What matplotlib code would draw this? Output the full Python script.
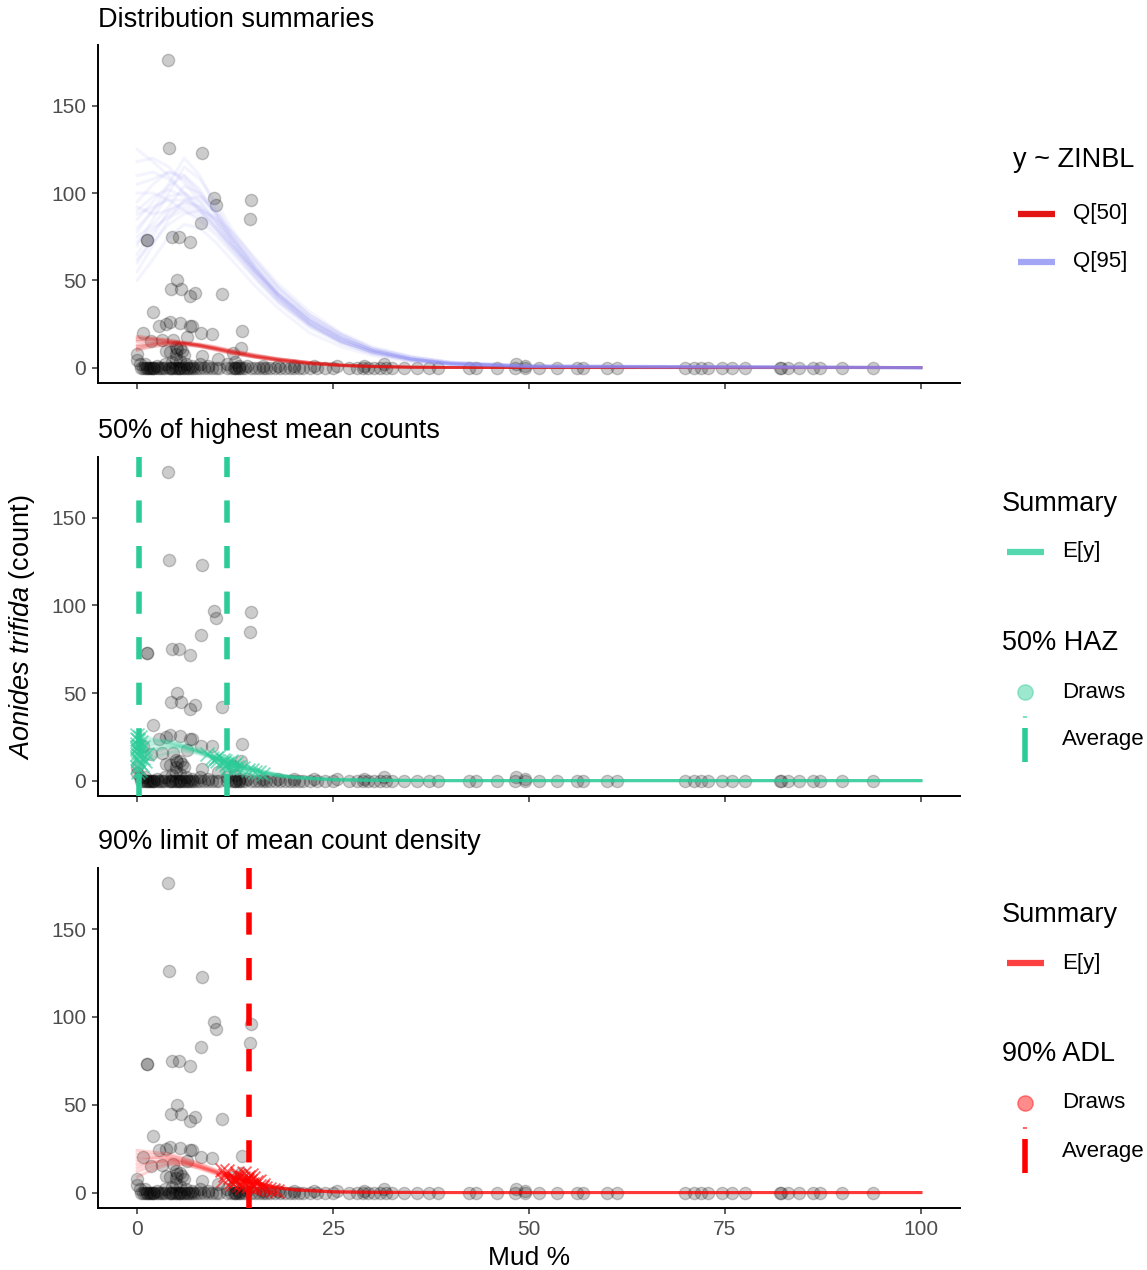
import numpy as np
import matplotlib
matplotlib.use("Agg")
import matplotlib.pyplot as plt
from matplotlib.lines import Line2D

plt.rcParams['font.family'] = ['Liberation Sans', 'DejaVu Sans']
plt.rcParams['mathtext.fontset'] = 'custom'
plt.rcParams['mathtext.it'] = 'Liberation Sans:italic'
plt.rcParams['mathtext.rm'] = 'Liberation Sans'

# observed samples with clear counts: mud % and count
high_mud = [
    3.95, 4.1, 8.3, 9.8, 10.0, 14.5, 14.4, 8.2, 1.3, 1.3, 4.5, 5.4, 6.8,
    5.1, 4.3, 5.6, 6.8, 7.4, 10.8, 2.0, 0.8, 2.8, 3.7, 4.2, 5.5, 6.7, 7.0,
    8.1, 9.6, 13.4, 1.7, 3.2, 4.6, 6.3, 13.3, 12.2, 0.0, 0.0, 3.7, 5.1, 5.7,
    8.3, 10.3, 4.9, 5.5, 5.0, 6.0, 4.2,
]
high_count = [
    176, 126, 123, 97, 93, 96, 85, 83, 73, 73, 75, 75, 72,
    50, 45, 45, 41, 43, 42, 32, 20, 24, 25, 26, 25.5, 24, 24,
    20, 19.5, 21, 15, 15.6, 16, 17.7, 11.4, 8.6, 7.6, 4.2, 9.5, 10.5, 9.5,
    6.7, 5, 12, 11, 8, 7.5, 9,
]
# samples with small counts
low_mud = [0.3, 1.0, 2.5, 3.5, 4.5, 5.0, 5.5, 6.2, 7.0, 8.0, 9.0, 11.5, 12.5,
           13.0, 14.0, 16.0, 18.0, 20.0, 22.5, 25.5, 29.0, 31.5, 48.3, 49.5]
low_count = [2, 2, 1, 2, 3, 5, 4, 2, 1, 2, 1, 2, 3,
             1, 1, 1, 1, 1, 1, 1, 1, 2, 2, 1]
# samples with zero count
zero_mud = [
    0.5, 0.8, 1.0, 1.2, 1.5, 1.8, 2.0, 2.2, 2.5, 3.0, 3.3, 3.6, 4.0, 4.2,
    4.5, 4.8, 5.0, 5.3, 5.6, 6.0, 6.3, 6.8, 7.2, 7.6, 8.0, 8.5, 9.0, 9.5,
    10.0, 10.5, 11.5, 12.0, 12.3, 12.6, 13.0, 13.4, 13.8, 14.5, 15.0, 15.5,
    16.0, 16.5, 17.0, 17.6, 18.2, 18.8, 19.5, 20.0, 20.6, 21.2, 22.0, 23.0,
    24.0, 25.0, 27.0, 28.0, 28.8, 29.5, 30.2, 31.0, 31.8, 32.5, 34.0, 35.7,
    37.2, 38.4, 42.3, 43.2, 45.9, 48.2, 49.5, 51.3, 53.6, 56.1, 56.9, 59.9,
    61.2, 69.9, 71.0, 72.0, 72.9, 74.6, 75.9, 77.6, 82.0, 82.2, 83.1, 84.4,
    86.3, 87.1, 89.9, 93.9,
    1.2, 1.6, 2.0, 5.2, 5.5, 6.0, 6.5, 7.0, 12.5, 13.0, 2.8, 4.4,
]
obs_mud = high_mud + low_mud + zero_mud
obs_count = high_count + low_count + [0] * len(zero_mud)

# panel 1: posterior draws of the quantiles
q_mud = [0, 2, 4, 6, 8, 10, 12, 15, 18, 22, 26, 30, 35, 40, 50, 100]
q95_draws = [
    [125, 118, 110, 100, 90, 80, 70, 55, 42, 28, 17, 10, 5, 2.5, 0.8, 0],
    [95, 105, 112, 108, 98, 88, 75, 58, 43, 28, 17, 10, 5, 2.5, 0.8, 0],
    [60, 75, 90, 95, 92, 85, 75, 60, 45, 30, 19, 11, 6, 3, 1, 0],
    [50, 62, 75, 82, 80, 72, 62, 47, 34, 20, 12, 7, 3, 1.5, 0.5, 0],
    [110, 112, 108, 100, 92, 82, 70, 53, 38, 24, 14, 8, 4, 2, 0.6, 0],
    [80, 90, 98, 100, 95, 85, 72, 55, 40, 25, 15, 9, 4.5, 2, 0.7, 0],
    [70, 85, 100, 115, 108, 95, 80, 62, 46, 30, 19, 11, 6, 3, 1, 0],
    [100, 100, 96, 90, 84, 76, 66, 51, 37, 23, 14, 8, 4, 2, 0.6, 0],
    [85, 95, 105, 120, 110, 92, 77, 58, 41, 26, 16, 9, 5, 2.2, 0.7, 0],
    [65, 78, 88, 92, 88, 80, 70, 56, 42, 27, 17, 10, 5, 2.5, 0.8, 0],
    [90, 98, 102, 98, 90, 80, 68, 52, 38, 24, 15, 9, 4.5, 2, 0.6, 0],
    [75, 82, 92, 104, 100, 90, 76, 58, 43, 28, 18, 10, 5, 2.5, 0.8, 0],
    [55, 70, 85, 96, 98, 90, 78, 61, 46, 30, 19, 11, 6, 3, 1, 0],
    [118, 120, 115, 106, 95, 84, 72, 55, 40, 25, 15, 9, 4.5, 2, 0.7, 0],
    [88, 92, 96, 96, 92, 84, 73, 57, 42, 27, 17, 10, 5, 2.4, 0.8, 0],
    [72, 80, 86, 90, 86, 78, 68, 53, 39, 25, 15, 9, 4.5, 2, 0.7, 0],
    [105, 108, 112, 110, 100, 88, 74, 56, 40, 25, 15, 8.5, 4, 2, 0.6, 0],
    [62, 72, 82, 88, 90, 86, 78, 63, 48, 32, 20, 12, 6.5, 3.2, 1, 0],
    [92, 88, 90, 94, 90, 82, 71, 55, 41, 26, 16, 9.5, 4.8, 2.3, 0.7, 0],
    [78, 90, 104, 110, 102, 88, 74, 57, 42, 27, 17, 10, 5, 2.4, 0.8, 0],
]
q50_draws = [
    [18, 17, 16, 14.5, 13, 11, 9, 6.5, 4.5, 2.5, 1.3, 0.7, 0.3, 0.1, 0, 0],
    [12, 13.5, 14, 13.5, 12.5, 11, 9.5, 7, 5, 3, 1.6, 0.8, 0.3, 0.1, 0, 0],
    [15, 15, 14.5, 13.5, 12, 10.5, 8.5, 6, 4, 2.2, 1.1, 0.5, 0.2, 0.1, 0, 0],
    [10, 12, 13, 13, 12, 10, 8, 6, 4.2, 2.4, 1.2, 0.6, 0.2, 0.1, 0, 0],
    [16, 16, 15, 14, 12.5, 10.5, 8.5, 6, 4, 2.2, 1.1, 0.5, 0.2, 0.1, 0, 0],
    [13, 14, 14.5, 14, 13, 11.5, 9.5, 7, 5, 3, 1.5, 0.7, 0.3, 0.1, 0, 0],
    [17, 16.5, 15.5, 14.5, 13.5, 12, 10, 7.5, 5.2, 3, 1.6, 0.8, 0.3, 0.1, 0, 0],
    [11, 13, 14, 14, 13, 11, 9, 6.5, 4.5, 2.6, 1.3, 0.6, 0.2, 0.1, 0, 0],
]

# panels 2 and 3: posterior draws of E[y]
e_mud = [0, 2, 4, 6, 8, 10, 12, 14, 16, 18, 20, 25, 30, 40, 100]
haz_ey_draws = [
    [24, 23, 22, 20, 17, 14, 11, 8, 5.5, 3.6, 2.2, 0.7, 0.2, 0, 0],
    [18, 20, 21, 19.5, 16.5, 13, 10, 7.2, 5, 3.2, 2, 0.6, 0.2, 0, 0],
    [12, 16, 19, 19, 16.5, 13, 9.8, 7, 4.6, 3, 1.8, 0.5, 0.2, 0, 0],
    [20, 21, 21, 19, 16, 12.5, 9.5, 6.8, 4.5, 2.8, 1.7, 0.5, 0.1, 0, 0],
    [15, 18, 20, 19, 16, 12.5, 9.2, 6.4, 4.2, 2.6, 1.5, 0.4, 0.1, 0, 0],
    [10, 13, 16, 17, 15, 12, 9, 6.2, 4, 2.5, 1.4, 0.4, 0.1, 0, 0],
    [22, 22, 23, 21, 18, 14.5, 11, 8, 5.4, 3.4, 2, 0.6, 0.2, 0, 0],
    [16, 18, 19, 18, 15.5, 12.5, 9.5, 6.8, 4.6, 2.9, 1.7, 0.5, 0.1, 0, 0],
    [26, 24, 22, 19.5, 16.5, 13, 10, 7.2, 4.9, 3.1, 1.9, 0.5, 0.2, 0, 0],
]
adl_ey_draws = [
    [22, 21.5, 21, 19, 16, 12.5, 9.5, 7, 4.8, 3, 1.8, 0.5, 0.1, 0, 0],
    [14, 17, 18.5, 17.5, 15, 12, 9.2, 6.6, 4.4, 2.8, 1.6, 0.4, 0.1, 0, 0],
    [9, 13, 16, 16, 14, 11, 8.5, 6.2, 4.2, 2.6, 1.5, 0.4, 0.1, 0, 0],
    [18, 19.5, 20, 18, 15, 12, 9, 6.5, 4.4, 2.8, 1.6, 0.4, 0.1, 0, 0],
    [12, 15, 17, 16, 13.5, 10.5, 8, 5.8, 3.9, 2.4, 1.4, 0.3, 0.1, 0, 0],
    [20, 20, 19.5, 17.5, 14.5, 11.5, 8.8, 6.3, 4.2, 2.6, 1.5, 0.4, 0.1, 0, 0],
    [24, 23, 22, 19.5, 16.5, 13, 10, 7.2, 4.9, 3.1, 1.8, 0.5, 0.1, 0, 0],
    [16, 17.5, 18, 17, 14.5, 11.5, 8.6, 6.1, 4.1, 2.5, 1.4, 0.4, 0.1, 0, 0],
]

# HAZ boundary draws (lower and upper) and their averages
haz_x = [0.0, 0.0, 0.1, 0.2, 0.0, 0.3, 0.5, 0.1, 0.0, 0.8, 0.2, 0.0, 1.0, 0.4,
         0.0, 0.6, 0.1, 1.2, 0.0, 0.3, 0.0, 0.4, 0.7, 0.1,
         9.5, 10.2, 10.8, 11.0, 11.3, 11.5, 11.7, 12.0, 12.3, 12.8, 13.5,
         14.2, 15.0, 16.0, 10.5, 11.8, 12.5, 9.8, 13.0, 11.2, 8.9, 10.0,
         12.6, 14.7, 15.6, 11.4]
haz_y = [24, 18, 12, 20, 15, 10, 22, 17, 8, 19, 14, 21, 11, 16, 13, 9, 23, 15,
         19, 6, 26, 25, 13, 5,
         13, 11, 10, 12, 9, 10, 8, 11, 9, 8, 7, 6, 5, 4, 14, 10, 7, 12, 8, 11,
         15, 13, 10, 6, 5, 7]
haz_avg = [0.2, 11.5]

# ADL draws and average
adl_x = [11.2, 11.8, 12.3, 12.6, 12.9, 13.2, 13.5, 13.8, 14.0, 14.2, 14.4,
         14.6, 14.9, 15.2, 15.5, 15.9, 16.3, 16.8, 17.3, 12.0, 13.0, 14.1,
         15.0, 13.6, 10.8, 11.5, 12.8, 13.4, 14.8, 15.6, 16.0, 17.8, 12.2,
         14.5, 13.9, 11.0]
adl_y = [10, 9, 8.5, 7, 9.5, 6, 8, 5.5, 7, 4, 6.5, 5, 3.5, 6, 4, 3, 2.5, 2,
         1.5, 6, 4.5, 9, 2, 11, 13, 12, 11, 3, 8, 6.5, 4.5, 1, 5, 10, 7.5, 7]
adl_avg = [14.3]

titles = ["Distribution summaries", "50% of highest mean counts",
          "90% limit of mean count density"]

GREEN = '#2BCC98'
RED = '#FF0000'
Q50_COL = '#E31414'
Q95_COL = '#A3A6F5'

W, H = 1147, 1270
fig = plt.figure(figsize=(W / 100, H / 100), dpi=100)


def fx(px):
    return px / W


def fy(py):
    return 1 - py / H


def box(top, bottom):
    return [fx(98), fy(bottom), 862 / W, (bottom - top) / H]


tops = [45, 457, 868]
bottoms = [383, 796, 1208]
axes = [fig.add_axes(box(t, b)) for t, b in zip(tops, bottoms)]

for i, ax in enumerate(axes):
    ax.scatter(obs_mud, obs_count, s=78, c='black', alpha=0.2,
               linewidths=1.0, zorder=2)
    ax.set_xlim(-5, 105)
    ax.set_ylim(-8.8, 184.8)
    ax.set_xticks([0, 25, 50, 75, 100])
    ax.set_yticks([0, 50, 100, 150])
    for s in ['top', 'right']:
        ax.spines[s].set_visible(False)
    for s in ['left', 'bottom']:
        ax.spines[s].set_linewidth(1.4)
    ax.tick_params(length=4.5, width=1.1, colors='#333333',
                   labelcolor='#4D4D4D', labelsize=15, pad=4)
    if i < 2:
        ax.set_xticklabels([])
    fig.text(fx(98), fy([20, 431, 842][i]), titles[i], fontsize=19.5,
             va='center', ha='left')

# panel 1
ax = axes[0]
for d in q50_draws:
    ax.plot(q_mud, d, color=Q50_COL, alpha=0.24, lw=2.0, zorder=3)
for d in q95_draws:
    ax.plot(q_mud, d, color='#8C8CF5', alpha=0.095, lw=2.2, zorder=4)

# panel 2
ax = axes[1]
for d in haz_ey_draws:
    ax.plot(e_mud, d, color=GREEN, alpha=0.2, lw=2.2, zorder=3)
ax.scatter(haz_x, haz_y, marker='x', s=100, c=GREEN, alpha=0.6,
           linewidths=1.3, zorder=4)
for v in haz_avg:
    ax.axvline(v, color=GREEN, lw=4, linestyle=(0, (4, 4.2)), zorder=5)

# panel 3
ax = axes[2]
for d in adl_ey_draws:
    ax.plot(e_mud, d, color=RED, alpha=0.17, lw=2.2, zorder=3)
ax.scatter(adl_x, adl_y, marker='x', s=100, c=RED, alpha=0.6,
           linewidths=1.3, zorder=4)
for v in adl_avg:
    ax.axvline(v, color=RED, lw=4, linestyle=(0, (4, 4.2)), zorder=5)
ax.set_xlabel('Mud %', fontsize=19, labelpad=5)

fig.text(fx(22), fy(627), r'$\it{Aonides\ trifida}$ (count)', rotation=90,
         fontsize=19.5, ha='center', va='center')


# legends
def key_line(x0, x1, y, color, lw=4.5):
    fig.add_artist(Line2D([fx(x0), fx(x1)], [fy(y), fy(y)], color=color,
                          lw=lw, solid_capstyle='butt'))


fig.text(fx(1013), fy(160), 'y ~ ZINBL', fontsize=19.5, va='center')
key_line(1018, 1055, 214, Q50_COL)
fig.text(fx(1073), fy(214), 'Q[50]', fontsize=16, va='center')
key_line(1018, 1055, 262, Q95_COL)
fig.text(fx(1073), fy(262), 'Q[95]', fontsize=16, va='center')

for off, col, key_col, name in [(0, GREEN, '#55D8B0', '50% HAZ'),
                                (411, RED, '#FF4040', '90% ADL')]:
    fig.text(fx(1002), fy(504 + off), 'Summary', fontsize=19.5, va='center')
    key_line(1007, 1044, 552 + off, key_col)
    fig.text(fx(1062), fy(552 + off), 'E[y]', fontsize=16, va='center')
    fig.text(fx(1002), fy(643 + off), name, fontsize=19.5, va='center')
    fig.add_artist(Line2D([fx(1025)], [fy(692 + off)], marker='o',
                          markersize=11, color=col, alpha=0.45, lw=0))
    fig.text(fx(1062), fy(692 + off), 'Draws', fontsize=16, va='center')
    fig.add_artist(Line2D([fx(1025), fx(1025)], [fy(716 + off), fy(718 + off)],
                          color=col, lw=3, alpha=0.6, solid_capstyle='butt'))
    fig.add_artist(Line2D([fx(1025), fx(1025)], [fy(728 + off), fy(762 + off)],
                          color=col, lw=4, solid_capstyle='butt'))
    fig.text(fx(1062), fy(740 + off), 'Average', fontsize=16, va='center')

fig.savefig('out.png', dpi=100)
